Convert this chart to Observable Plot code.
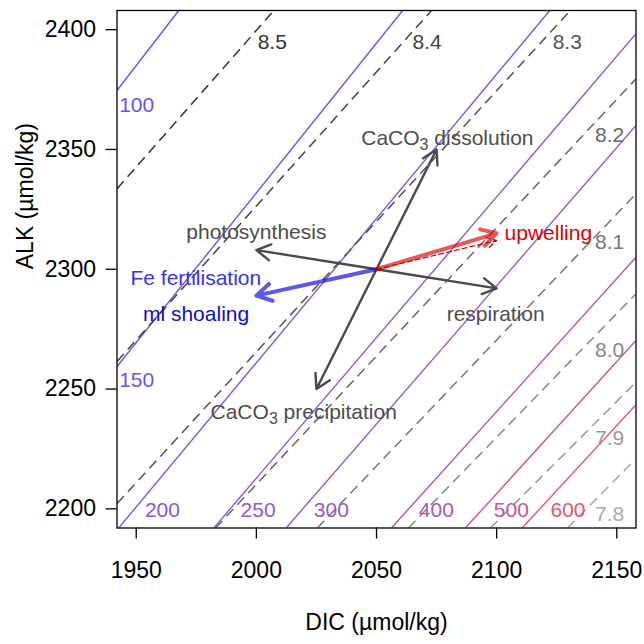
<!DOCTYPE html>
<html><head><meta charset="utf-8">
<script src="https://cdn.jsdelivr.net/npm/d3@7"></script>
<script src="https://cdn.jsdelivr.net/npm/@observablehq/plot@0.6"></script>
<style>body{margin:0;background:#fff;}</style>
</head><body><div id="chart"></div>
<script>
// Axis ticks
const xTicks = [1950, 2000, 2050, 2100, 2150];
const yTicks = [2200, 2250, 2300, 2350, 2400];

// pCO2 isolines (µatm): end points [DIC, ALK]
const pco2Levels = [100, 150, 200, 250, 300, 400, 500, 600];
const pco2Colors = ["#6655ee", "#6e55e6", "#8458dc", "#9258d2", "#9a58c8", "#b058aa", "#cc5590", "#e8556e"];
const pco2Start = [[1942, 2374.6], [1942, 2259.4], [1942.7, 2192], [1982.3, 2192], [2012.4, 2192], [2056.2, 2192], [2087, 2192], [2110.6, 2192]];
const pco2End = [[1967.7, 2408], [2060.9, 2408], [2122.1, 2408], [2158, 2398.3], [2158, 2360], [2158, 2305], [2158, 2270.3], [2158, 2243.5]];
const pco2LabelPos = [[1950.2, 2368.3], [1950.2, 2253.6], [1960.9, 2199.3], [2000.7, 2199.3], [2031.2, 2199.3], [2074.9, 2199.3], [2106.1, 2199.3], [2129.7, 2199.3]];

// pH isolines
const phLevels = ["8.5", "8.4", "8.3", "8.2", "8.1", "8.0", "7.9", "7.8"];
const phColors = ["#333333", "#444444", "#555555", "#666666", "#777777", "#888888", "#999999", "#aaaaaa"];
const phStart = [[1942, 2333.6], [1942, 2261.5], [1942, 2202.2], [1983, 2192], [2025.4, 2192], [2063.3, 2192], [2097.4, 2192], [2129.5, 2192]];
const phEnd = [[2007.3, 2408], [2072.9, 2408], [2130.7, 2408], [2158, 2379.5], [2158, 2331.5], [2158, 2289.8], [2158, 2252.9], [2158, 2220.9]];
const phLabelPos = [[2006.6, 2394.8], [2071.1, 2394.8], [2129.4, 2394.8], [2147, 2355.8], [2147, 2311.3], [2147, 2266.1], [2147, 2229.6], [2147, 2197.6]];

// Process vectors from the starting water mass
const origin = [2050, 2300];
const grayProcesses = ["CaCO3 dissolution", "CaCO3 precipitation", "photosynthesis", "respiration"];
const grayEnds = [[2075, 2350], [2025, 2250], [2000, 2308], [2100, 2292]];
const feEnd = [2000, 2289];
const upwellingEnd = [2100, 2315];
const upwellingDashEnd = [2100, 2312];

// Annotation texts
const noteText = ["CaCO3 dissolution", "CaCO3 precipitation", "photosynthesis", "respiration", "Fe fertilisation", "ml shoaling", "upwelling"];
const notePos = [[2079.5, 2354.6], [2019.7, 2240.2], [2000, 2315.3], [2099.6, 2281.1], [1974.8, 2296.3], [1974.9, 2281.1], [2121.5, 2314.9]];
const noteColors = ["#4d4d4d", "#4d4d4d", "#4d4d4d", "#4d4d4d", "#3535ea", "#1010c8", "#dd0000"];

const idx8 = d3.range(8);
const FONT = "'Liberation Sans', Arial, Helvetica, sans-serif";

const plot = Plot.plot({
  width: 644,
  height: 644,
  marginLeft: 116.5,
  marginRight: 8.5,
  marginTop: 10,
  marginBottom: 116.5,
  style: {fontFamily: FONT, fontSize: "23px", background: "white", color: "black"},
  x: {domain: [1942, 2158]},
  y: {domain: [2192, 2408]},
  marks: [
    Plot.link(idx8, {
      x1: i => pco2Start[i][0], y1: i => pco2Start[i][1],
      x2: i => pco2End[i][0], y2: i => pco2End[i][1],
      stroke: i => pco2Colors[i], strokeWidth: 1.4, clip: true
    }),
    Plot.link(idx8, {
      x1: i => phStart[i][0], y1: i => phStart[i][1],
      x2: i => phEnd[i][0], y2: i => phEnd[i][1],
      stroke: i => phColors[i], strokeWidth: 1.5, strokeDasharray: "10,6", clip: true
    }),
    Plot.text(idx8, {
      x: i => pco2LabelPos[i][0], y: i => pco2LabelPos[i][1],
      text: i => String(pco2Levels[i]), fill: i => pco2Colors[i], fontSize: 21
    }),
    Plot.text(idx8, {
      x: i => phLabelPos[i][0], y: i => phLabelPos[i][1],
      text: i => phLevels[i], fill: i => phColors[i], fontSize: 21
    }),
    // gray process arrows
    Plot.arrow(d3.range(grayProcesses.length), {
      x1: () => origin[0], y1: () => origin[1],
      x2: i => grayEnds[i][0], y2: i => grayEnds[i][1],
      stroke: "#4a4a4a", strokeWidth: 2.4, headLength: 10
    }),
    // Fe fertilisation / ml shoaling arrow
    Plot.arrow([0], {
      x1: () => origin[0], y1: () => origin[1],
      x2: () => feEnd[0], y2: () => feEnd[1],
      stroke: "#0000e0", strokeOpacity: 0.65, strokeWidth: 4, headLength: 6.4
    }),
    // upwelling arrows
    Plot.arrow([0], {
      x1: () => origin[0], y1: () => origin[1],
      x2: () => upwellingEnd[0], y2: () => upwellingEnd[1],
      stroke: "#dd0000", strokeOpacity: 0.65, strokeWidth: 4, headLength: 6.4
    }),
    Plot.arrow([0], {
      x1: () => origin[0], y1: () => origin[1],
      x2: () => upwellingDashEnd[0], y2: () => upwellingDashEnd[1],
      stroke: "#cc0000", strokeWidth: 1.2, strokeDasharray: "5,3", headLength: 14
    }),
    Plot.text(d3.range(noteText.length), {
      x: i => notePos[i][0], y: i => notePos[i][1],
      text: i => noteText[i], fill: i => noteColors[i], fontSize: 21
    }),
    Plot.frame({stroke: "black", strokeWidth: 1.3}),
    Plot.axisX({ticks: xTicks, tickSize: 11, tickPadding: 23, tickFormat: d => String(d), label: null, strokeWidth: 1.3}),
    Plot.axisY({ticks: yTicks, tickSize: 11, tickPadding: 10, tickFormat: d => String(d), label: null, strokeWidth: 1.3}),
    Plot.text(["DIC (µmol/kg)"], {frameAnchor: "bottom", dy: 102, fontSize: 23, fill: "black"}),
    Plot.text(["ALK (µmol/kg)"], {frameAnchor: "left", dx: -91, rotate: -90, fontSize: 23, fill: "black"})
  ]
});

// subscript for CaCO3
plot.querySelectorAll("text").forEach(t => {
  const s = t.textContent;
  if (s.startsWith("CaCO3")) {
    const rest = s.slice(5);
    t.textContent = "";
    const ns = "http://www.w3.org/2000/svg";
    t.appendChild(document.createTextNode("CaCO"));
    const sub = document.createElementNS(ns, "tspan");
    sub.setAttribute("dy", "5");
    sub.setAttribute("font-size", "16");
    sub.textContent = "3";
    t.appendChild(sub);
    const r = document.createElementNS(ns, "tspan");
    r.setAttribute("dy", "-5");
    r.textContent = rest;
    t.appendChild(r);
  }
});

document.getElementById("chart").appendChild(plot);
</script>
</body></html>
